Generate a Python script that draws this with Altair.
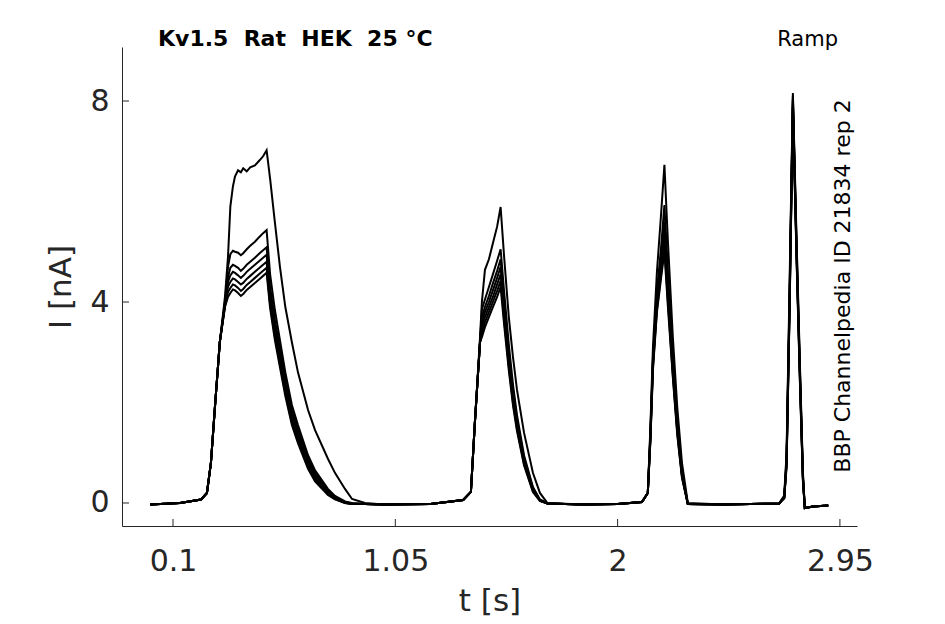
import altair as alt
import pandas as pd

# time points [s]
T = [0.002, 0.13, 0.22, 0.245, 0.262, 0.279, 0.30, 0.322, 0.335, 0.345, 0.356, 0.365, 0.378, 0.39, 0.40,
     0.415, 0.43, 0.45, 0.47, 0.485, 0.50, 0.515, 0.535, 0.557, 0.58, 0.608, 0.634, 0.677, 0.707, 0.762,
     0.792, 0.835, 0.865, 0.92,
     1.0, 1.2, 1.34, 1.373, 1.39, 1.412, 1.42, 1.433, 1.45, 1.467, 1.485, 1.50, 1.515, 1.535, 1.553, 1.57,
     1.60, 1.638, 1.668, 1.70,
     1.85, 2.0, 2.104, 2.129, 2.14, 2.151, 2.168, 2.185, 2.20, 2.215, 2.236, 2.255, 2.275, 2.30,
     2.45, 2.69, 2.712, 2.722, 2.735, 2.749, 2.765, 2.78, 2.792, 2.80, 2.835, 2.90]

BASE1 = [-0.03, 0.0, 0.07, 0.2, 0.8, 1.9, 3.2]

# current traces [nA]
I_A = BASE1 + [4.1, 4.9, 5.9, 6.3, 6.5, 6.62, 6.58, 6.66, 6.6, 6.68, 6.72, 6.82, 6.9, 7.02,
               6.45, 5.6, 4.7, 3.9, 3.2, 2.6, 1.85, 1.45, 0.88, 0.6, 0.28, 0.08, 0.0,
               -0.03, -0.02, 0.06, 0.22, 1.6, 3.3, 4.0, 4.64, 4.85, 5.17, 5.5, 5.89, 4.9, 3.7, 2.9, 2.25,
               1.4, 0.6, 0.2, 0.0,
               -0.03, -0.02, 0.02, 0.2, 1.5, 3.1, 4.6, 5.7, 6.73, 5.2, 3.3, 1.9, 0.8, 0.0,
               -0.03, -0.01, 0.15, 1.0, 4.4, 8.16, 5.2, 2.6, 0.6, -0.1, -0.07, -0.05]
I_B = BASE1 + [4.0, 4.7, 4.95, 5.02, 5.0, 4.98, 4.93, 4.97, 5.05, 5.12, 5.2, 5.3, 5.37, 5.43,
               4.55, 3.85, 3.24, 2.6, 1.95, 1.55, 0.95, 0.65, 0.28, 0.14, 0.03, 0.0, -0.02,
               -0.03, -0.02, 0.06, 0.22, 1.6, 3.2, 3.85, 4.05, 4.3, 4.55, 4.82, 5.05, 4.2, 3.15, 2.35, 1.75,
               0.95, 0.32, 0.07, -0.01,
               -0.03, -0.02, 0.02, 0.2, 1.4, 2.9, 4.2, 5.05, 5.93, 4.6, 2.95, 1.65, 0.65, -0.02,
               -0.03, -0.01, 0.12, 0.9, 4.2, 8.1, 5.1, 2.5, 0.55, -0.1, -0.07, -0.05]
I_C = BASE1 + [3.98, 4.5, 4.68, 4.74, 4.72, 4.68, 4.62, 4.66, 4.74, 4.8, 4.88, 4.97, 5.03, 5.09,
               4.3, 3.65, 3.08, 2.48, 1.85, 1.46, 0.88, 0.6, 0.25, 0.12, 0.02, -0.01, -0.02,
               -0.03, -0.02, 0.06, 0.22, 1.6, 3.2, 3.7, 3.9, 4.12, 4.37, 4.62, 4.85, 4.0, 3.0, 2.25, 1.66,
               0.9, 0.3, 0.06, -0.01,
               -0.03, -0.02, 0.02, 0.2, 1.35, 2.85, 4.1, 4.85, 5.6, 4.35, 2.8, 1.56, 0.6, -0.02,
               -0.03, -0.01, 0.12, 0.85, 4.1, 8.05, 5.0, 2.45, 0.5, -0.1, -0.07, -0.05]
I_D = BASE1 + [3.96, 4.4, 4.53, 4.6, 4.58, 4.53, 4.48, 4.52, 4.6, 4.66, 4.74, 4.82, 4.88, 4.94,
               4.15, 3.52, 2.96, 2.38, 1.76, 1.38, 0.82, 0.55, 0.22, 0.1, 0.01, -0.01, -0.02,
               -0.03, -0.02, 0.06, 0.22, 1.6, 3.2, 3.6, 3.8, 4.0, 4.23, 4.48, 4.7, 3.88, 2.9, 2.16, 1.6,
               0.86, 0.28, 0.05, -0.01,
               -0.03, -0.02, 0.02, 0.2, 1.3, 2.8, 4.0, 4.72, 5.42, 4.2, 2.7, 1.5, 0.57, -0.02,
               -0.03, -0.01, 0.1, 0.8, 4.0, 8.0, 4.95, 2.4, 0.5, -0.1, -0.07, -0.05]
I_E = BASE1 + [3.94, 4.3, 4.4, 4.47, 4.45, 4.4, 4.35, 4.38, 4.46, 4.52, 4.6, 4.68, 4.74, 4.8,
               4.05, 3.42, 2.86, 2.28, 1.68, 1.3, 0.77, 0.5, 0.2, 0.09, 0.01, -0.02, -0.02,
               -0.03, -0.02, 0.06, 0.22, 1.6, 3.2, 3.5, 3.7, 3.9, 4.1, 4.35, 4.55, 3.76, 2.8, 2.08, 1.54,
               0.82, 0.26, 0.05, -0.01,
               -0.03, -0.02, 0.02, 0.2, 1.28, 2.75, 3.92, 4.62, 5.27, 4.1, 2.62, 1.45, 0.55, -0.02,
               -0.03, -0.01, 0.1, 0.78, 3.95, 7.95, 4.9, 2.35, 0.48, -0.1, -0.07, -0.05]
I_F = BASE1 + [3.92, 4.2, 4.28, 4.35, 4.33, 4.28, 4.22, 4.26, 4.34, 4.4, 4.48, 4.56, 4.62, 4.68,
               3.95, 3.32, 2.77, 2.2, 1.6, 1.24, 0.72, 0.46, 0.18, 0.08, 0.0, -0.02, -0.02,
               -0.03, -0.02, 0.06, 0.22, 1.6, 3.2, 3.4, 3.6, 3.8, 4.0, 4.22, 4.42, 3.65, 2.72, 2.0, 1.48,
               0.78, 0.24, 0.04, -0.01,
               -0.03, -0.02, 0.02, 0.2, 1.25, 2.7, 3.85, 4.52, 5.12, 4.0, 2.55, 1.4, 0.52, -0.02,
               -0.03, -0.01, 0.1, 0.75, 3.9, 7.9, 4.85, 2.3, 0.45, -0.1, -0.07, -0.05]
I_G = BASE1 + [3.9, 4.1, 4.18, 4.25, 4.23, 4.18, 4.12, 4.16, 4.24, 4.3, 4.38, 4.46, 4.52, 4.58,
               3.88, 3.25, 2.7, 2.13, 1.55, 1.19, 0.68, 0.43, 0.16, 0.07, 0.0, -0.02, -0.02,
               -0.03, -0.02, 0.06, 0.22, 1.6, 3.2, 3.3, 3.5, 3.7, 3.9, 4.1, 4.3, 3.55, 2.64, 1.94, 1.43,
               0.75, 0.22, 0.04, -0.01,
               -0.03, -0.02, 0.02, 0.2, 1.22, 2.65, 3.8, 4.45, 5.0, 3.9, 2.5, 1.35, 0.5, -0.02,
               -0.03, -0.01, 0.1, 0.72, 3.85, 7.85, 4.8, 2.25, 0.42, -0.1, -0.07, -0.05]

TRACES = {"A": I_A, "B": I_B, "C": I_C, "D": I_D, "E": I_E, "F": I_F, "G": I_G}
X_TICKS = [0.1, 1.05, 2, 2.95]
Y_TICKS = [0, 4, 8]
X_DOMAIN = [-0.118, 3.023]
Y_DOMAIN = [-0.458, 9.075]

rows = []
for name, vals in TRACES.items():
    for t, i in zip(T, vals):
        rows.append({"trace": name, "t": t, "I": i})
df = pd.DataFrame(rows)

W, H = 735, 479
DARK = "#262626"
FONT = "DejaVu Sans"

xscale = alt.Scale(domain=X_DOMAIN, nice=False, zero=False)
yscale = alt.Scale(domain=Y_DOMAIN, nice=False, zero=False)

xaxis = alt.Axis(values=X_TICKS, format=".3~g", ticks=False, tickSize=0, grid=False,
                 domainColor=DARK, domainWidth=1, labelFont=FONT, labelFontSize=30,
                 labelColor=DARK, labelPadding=20, labelFlush=False,
                 title="t [s]", titleFont=FONT, titleFontSize=31, titleFontWeight="normal",
                 titleColor=DARK, titleY=84, titleBaseline="alphabetic")
yaxis = alt.Axis(values=Y_TICKS, format=".3~g", ticks=False, tickSize=0, grid=False,
                 domainColor=DARK, domainWidth=1, labelFont=FONT, labelFontSize=30,
                 labelColor=DARK, labelPadding=13, labelFlush=False,
                 title="I [nA]", titleFont=FONT, titleFontSize=31, titleFontWeight="normal",
                 titleColor=DARK, titleX=-52, titleY=H / 2, titleAngle=270,
                 titleBaseline="alphabetic", titleAlign="center")

lines = alt.Chart(df).mark_line(color="black", strokeWidth=2).encode(
    x=alt.X("t:Q", scale=xscale, axis=xaxis),
    y=alt.Y("I:Q", scale=yscale, axis=yaxis),
    detail="trace:N",
    order="t:Q",
)

xt = alt.Chart(pd.DataFrame({"t": X_TICKS})).mark_rule(color=DARK, strokeWidth=1).encode(
    x=alt.X("t:Q", scale=xscale),
    y=alt.value(H - 7), y2=alt.value(H),
)
yt = alt.Chart(pd.DataFrame({"I": Y_TICKS})).mark_rule(color=DARK, strokeWidth=1).encode(
    y=alt.Y("I:Q", scale=yscale),
    x=alt.value(0), x2=alt.value(7),
)

title_txt = alt.Chart(pd.DataFrame({"a": [0]})).mark_text(
    align="left", baseline="alphabetic", font=FONT, fontSize=22, fontWeight="bold", color="black"
).encode(x=alt.value(36), y=alt.value(-1), text=alt.value("Kv1.5\u00a0 Rat\u00a0 HEK\u00a0 25 °C"))

ramp_txt = alt.Chart(pd.DataFrame({"a": [0]})).mark_text(
    align="right", baseline="alphabetic", font=FONT, fontSize=21, color="black"
).encode(x=alt.value(716), y=alt.value(-1), text=alt.value("Ramp"))

id_txt = alt.Chart(pd.DataFrame({"a": [0]})).mark_text(
    align="center", baseline="alphabetic", font=FONT, fontSize=22, color="black", angle=270
).encode(x=alt.value(728), y=alt.value(239), text=alt.value("BBP Channelpedia ID 21834 rep 2"))

chart = alt.layer(lines, xt, yt, title_txt, ramp_txt, id_txt).properties(
    width=W, height=H,
    autosize=alt.AutoSizeParams(type="none"),
    padding={"left": 114, "top": 39, "right": 80, "bottom": 90},
    background="white",
).configure_view(stroke=None)

chart.save("out.html", embed_options={"renderer": "svg", "actions": False})
